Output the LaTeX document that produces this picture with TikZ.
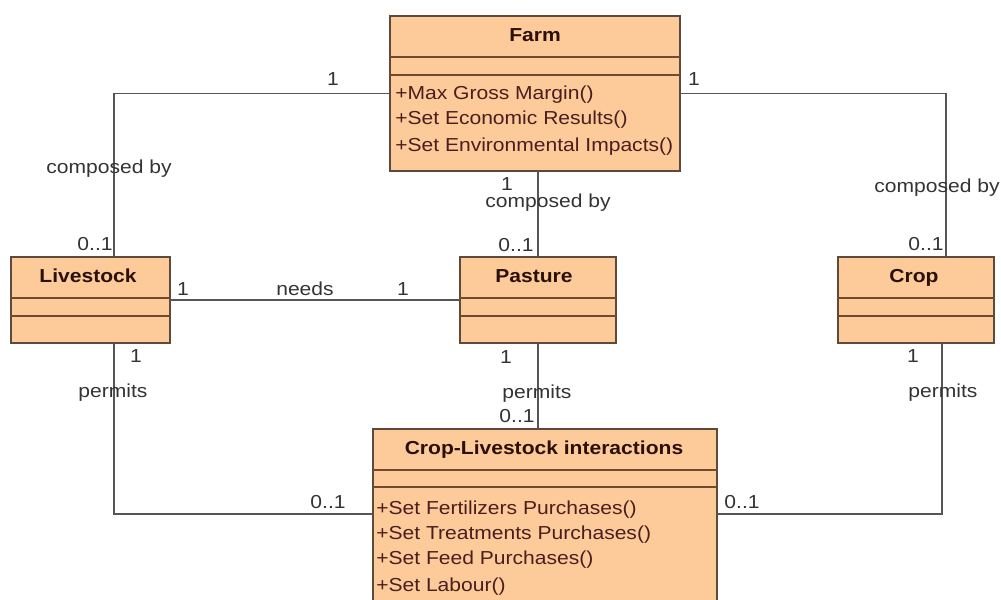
\documentclass[tikz,border=0pt]{standalone}
\usepackage{fontspec}
\setmainfont{Liberation Sans}[FakeStretch=1.12]
\definecolor{boxfill}{HTML}{FDCB9A}
\definecolor{boxdraw}{HTML}{5E4A3A}
\definecolor{sepline}{HTML}{6E4B2E}
\definecolor{conn}{HTML}{555555}
\definecolor{lbl}{HTML}{333333}
\definecolor{meth}{HTML}{4A1E1E}
\definecolor{ttl}{HTML}{2A1008}
\begin{document}
\begin{tikzpicture}[x=0.75pt,y=-0.75pt,
  umlbox/.style 2 args={draw=boxdraw, fill=boxfill, line width=0.9pt, inner sep=0pt, outer sep=0pt, anchor=north west, minimum width=#1*0.75pt, minimum height=#2*0.75pt},
  sepl/.style={draw=sepline, line width=0.9pt},
  connector/.style={draw=conn, line width=0.8pt},
  txt/.style={inner sep=0pt, font=\fontsize{14.1}{16}\selectfont},
  title/.style={txt, text=ttl, font=\fontsize{14.1}{16}\selectfont\bfseries, anchor=base},
  method/.style={txt, text=meth, anchor=base west},
  lab/.style={txt, text=lbl, anchor=base}]
\useasboundingbox (0,0) rectangle (1001,600);
% boxes
\node[umlbox={290}{155}] (farm) at (390,16) {};
\node[umlbox={159}{86}] (livestock) at (11,257) {};
\node[umlbox={156}{86}] (pasture) at (460,257) {};
\node[umlbox={156}{86}] (crop) at (838,257) {};
\node[umlbox={344}{185}] (cli) at (373,429) {};
% separators
\foreach \b/\ya/\yb in {farm/57/75, livestock/298/316, pasture/298/316, crop/298/316, cli/470/487}{
  \draw[sepl] (\b.west |- 0,\ya) -- (\b.east |- 0,\ya);
  \draw[sepl] (\b.west |- 0,\yb) -- (\b.east |- 0,\yb);
}
% titles
\node[title] (farmT) at (535,41) {Farm};
\node[title] (livestockT) at (88,282) {Livestock};
\node[title] (pastureT) at (534,282) {Pasture};
\node[title] (cropT) at (914,282) {Crop};
\node[title] (cliT) at (544,454) {Crop-Livestock interactions};
% methods
\node[method] (fm1) at (395,99) {+Max Gross Margin()};
\node[method] (fm2) at (395,124.5) {+Set Economic Results()};
\node[method] (fm3) at (395,151) {+Set Environmental Impacts()};
\node[method] (cm1) at (376,514) {+Set Fertilizers Purchases()};
\node[method] (cm2) at (376,539.5) {+Set Treatments Purchases()};
\node[method] (cm3) at (376,564.5) {+Set Feed Purchases()};
\node[method] (cm4) at (376,591) {+Set Labour()};
% connector end points
\coordinate (lsTop) at (114,257);
\coordinate (lsBot) at (114,343);
\coordinate (crTop) at (946,257);
\coordinate (crBot) at (942,343);
\coordinate (cliL) at (373,514);
\coordinate (cliR) at (717,514);
% connectors
\draw[connector] (farm.west) -| (lsTop);
\draw[connector] (farm.east) -| (crTop);
\draw[connector] (farm.south -| pasture.north) -- (pasture.north);
\draw[connector] (livestock.east) -- (livestock.east -| pasture.west);
\draw[connector] (pasture.south) -- (pasture.south |- cli.north);
\draw[connector] (lsBot) |- (cliL);
\draw[connector] (crBot) |- (cliR);
% labels
\node[lab] (l1) at (333,85) {1};
\node[lab] (l2) at (109,173) {composed by};
\node[lab] (l3) at (95,250.5) {0..1};
\node[lab] (l4) at (694,85) {1};
\node[lab] (l5) at (937,192.5) {composed by};
\node[lab] (l6) at (926,250.5) {0..1};
\node[lab] (l7) at (507,190) {1};
\node[lab] (l8) at (548,207.5) {composed by};
\node[lab] (l9) at (516,251.5) {0..1};
\node[lab] (l10) at (183,295) {1};
\node[lab] (l11) at (305,295) {needs};
\node[lab] (l12) at (403,295) {1};
\node[lab] (l13) at (136,362) {1};
\node[lab] (l14) at (113,397) {permits};
\node[lab] (l15) at (506,363) {1};
\node[lab] (l16) at (537,398) {permits};
\node[lab] (l17) at (517,422) {0..1};
\node[lab] (l18) at (913,362) {1};
\node[lab] (l19) at (943,397) {permits};
\node[lab] (l20) at (328,508.5) {0..1};
\node[lab] (l21) at (742,508.5) {0..1};
\end{tikzpicture}
\end{document}
